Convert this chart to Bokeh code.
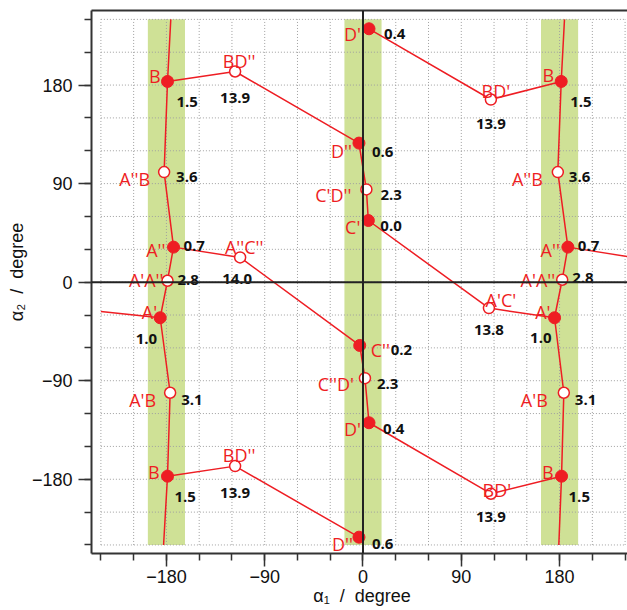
from bokeh.plotting import figure
from bokeh.models import ColumnDataSource, LinearAxis, FixedTicker, Span, Range1d
from bokeh.embed import file_html
from bokeh.resources import INLINE
from bokeh.core.properties import value

RED = "#ee1d23"
GREEN = "#cfe196"
GRID = "#a0a0a0"
NB = "\u00a0"

# ---------------- data (degrees) ----------------
# minima (filled circles)
min_names = ["B", "B", "B", "B", "A''", "A''", "A'", "A'", "C'", "C''", "D'", "D'", "D''", "D''"]
min_x = [-179.0, -179.0, 181.5, 181.8, -173.5, 187.6, -185.7, 175.4, 4.9, -3.0, 5.5, 5.5, -3.7, -3.7]
min_y = [183.3, -177.2, 183.3, -177.2, 32.0, 32.0, -32.5, -32.5, 56.3, -57.8, 231.4, -128.4, 127.0, -232.9]
min_energy = ["1.5", "1.5", "1.5", "1.5", "0.7", "0.7", "1.0", "1.0", "0.0", "0.2", "0.4", "0.4", "0.6", "0.6"]

# transition states (open circles)
ts_names = ["BD''", "BD''", "BD'", "BD'", "A''B", "A''B", "A''C''", "A'A''", "A'A''", "A'B", "A'B", "C'D''", "A'C'", "C''D'"]
ts_x = [-117.1, -117.1, 117.1, 117.1, -182.1, 178.4, -112.5, -179.0, 182.4, -176.6, 183.9, 3.1, 115.3, 1.8]
ts_y = [192.4, -168.0, 166.8, -193.2, 100.5, 100.5, 22.6, 1.3, 2.2, -101.0, -101.0, 84.7, -23.7, -87.7]
ts_energy = ["13.9", "13.9", "13.9", "13.9", "3.6", "3.6", "14.0", "2.8", "2.8", "3.1", "3.1", "2.3", "13.8", "2.3"]

# connecting paths
path_x = [
    [-176.0, -179.0, -182.1, -173.5, -179.0, -185.7, -176.6, -179.0, -182.6],
    [-240.0, -185.7],
    [-173.5, -112.5, -3.0, 1.8, 5.5, 117.1, 181.8],
    [-179.0, -117.1, -3.7, 3.1, 4.9, 115.3, 175.4],
    [-179.0, -117.1, -3.7],
    [5.5, 117.1, 181.5],
    [184.5, 181.5, 178.4, 187.6, 182.4, 175.4, 183.9, 181.8, 179.3],
    [187.6, 247.5],
]
path_y = [
    [240.0, 183.3, 100.5, 32.0, 1.3, -32.5, -101.0, -177.2, -240.0],
    [-26.8, -32.5],
    [32.0, 22.6, -57.8, -87.7, -128.4, -193.2, -177.2],
    [183.3, 192.4, 127.0, 84.7, 56.3, -23.7, -32.5],
    [-177.2, -168.0, -232.9],
    [231.4, 166.8, 183.3],
    [240.0, 183.3, 100.5, 32.0, 2.2, -32.5, -101.0, -177.2, -240.0],
    [32.0, 22.6],
]

band_centers = [-180, 0, 180]
band_half = 17
lim = 240
major_ticks = [-180, -90, 0, 90, 180]
minor_ticks = list(range(-240, 241, 30))

# label placement (style): (align, dx px, baseline dy px)
min_name_pos = [("right", -7, -5), ("right", -8, -4), ("right", -7, -6), ("right", -8, -4),
                ("right", -8, 3), ("right", -8, 3), ("right", -3, -6), ("right", -4, -6),
                ("right", -8, 6), ("left", 11, 5), ("right", -8, 5), ("right", -8, 6),
                ("right", -7, 8), ("right", -6, 7)]
min_energy_pos = [("left", 9, 21), ("left", 7, 21), ("left", 9, 21), ("left", 7, 21),
                  ("left", 10, -1), ("left", 10, -1), ("right", -3, 21), ("right", -3, 20),
                  ("left", 12, 5), ("left", 31, 5), ("left", 15, 5), ("left", 14, 6),
                  ("left", 13, 9), ("left", 13, 7)]
ts_name_pos = [("center", 4, -10), ("center", 4, -11), ("center", 5, -9), ("center", 6, -4),
               ("right", -14, 7), ("right", -15, 7), ("center", 4, -10), ("right", -4, -1),
               ("right", -7, 0), ("right", -14, 7), ("right", -16, 7), ("right", -15, 6),
               ("center", 12, -8), ("right", -11, 6)]
ts_energy_pos = [("center", 0, 27), ("center", 0, 27), ("center", 0, 24), ("center", 0, 23),
                 ("left", 12, 5), ("left", 11, 5), ("center", -3, 22), ("left", 10, -1),
                 ("left", 10, -2), ("left", 11, 7), ("left", 11, 7), ("left", 14, 6),
                 ("center", 0, 22), ("left", 12, 6)]

# ---------------- figure ----------------
p = figure(width=627, height=610,
           x_range=Range1d(-248.6, 242.2), y_range=Range1d(-247.8, 248.1),
           output_backend="svg", toolbar_location=None,
           min_border_left=91, min_border_right=0, min_border_top=10, min_border_bottom=57)
p.outline_line_color = None
p.xgrid.visible = False
p.ygrid.visible = False
p.background_fill_color = "white"
p.border_fill_color = "white"

TICK_FONT = "Liberation Sans"
for ax in (p.xaxis[0], p.yaxis[0]):
    ax.ticker = FixedTicker(ticks=major_ticks, minor_ticks=minor_ticks)
    ax.major_tick_out = 13
    ax.major_tick_in = 0
    ax.minor_tick_out = 7
    ax.minor_tick_in = 0
    ax.axis_line_width = 2
    ax.axis_line_color = "#333333"
    ax.major_tick_line_width = 1.5
    ax.minor_tick_line_width = 1.5
    ax.major_tick_line_color = "#333333"
    ax.minor_tick_line_color = "#333333"
    ax.major_label_text_font = TICK_FONT
    ax.major_label_text_font_size = "18px"
    ax.major_label_text_color = "#111111"
    ax.axis_label_text_font = TICK_FONT
    ax.axis_label_text_font_size = "18px"
    ax.axis_label_text_font_style = "normal"
    ax.axis_label_text_color = "#111111"

p.xaxis.major_label_standoff = 3
p.yaxis.major_label_standoff = 6
p.xaxis.axis_label_standoff = 0
p.yaxis.axis_label_standoff = 2
p.xaxis.axis_label = NB + "α₁" + NB * 2 + "/" + NB * 2 + "degree"
p.yaxis.axis_label = NB * 4 + "α₂" + NB * 2 + "/" + NB * 2 + "degree"
p.yaxis.major_label_orientation = "horizontal"

top_axis = LinearAxis(ticker=FixedTicker(ticks=[]), major_label_text_font_size="0px",
                      major_tick_out=0, major_tick_in=0, minor_tick_out=0, minor_tick_in=0,
                      major_label_standoff=0, axis_line_width=2, axis_line_color="#333333")
p.add_layout(top_axis, "above")

# green bands
p.quad(left=[c - band_half for c in band_centers], right=[c + band_half for c in band_centers],
       top=lim, bottom=-lim, fill_color=GREEN, line_color=None)

# dotted grid
p.segment(x0=minor_ticks, y0=[-lim] * len(minor_ticks), x1=minor_ticks, y1=[lim] * len(minor_ticks),
          line_color=GRID, line_width=1, line_dash="1 2")
p.segment(x0=[-lim] * len(minor_ticks), y0=minor_ticks, x1=[lim] * len(minor_ticks), y1=minor_ticks,
          line_color=GRID, line_width=1, line_dash="1 2")

# zero lines
p.add_layout(Span(location=0, dimension="height", line_color="#222222", line_width=2))
p.add_layout(Span(location=0, dimension="width", line_color="#222222", line_width=2))

# paths
for xs, ys in zip(path_x, path_y):
    p.line(xs, ys, line_color=RED, line_width=1.5)

# markers
p.scatter(min_x, min_y, size=12, fill_color=RED, line_color=RED, line_width=1)
p.scatter(ts_x, ts_y, size=11, fill_color="white", line_color=RED, line_width=1.5)

# labels
def add_labels(xs, ys, texts, pos, color, font, size, style):
    for align in ("left", "right", "center"):
        idx = [i for i, q in enumerate(pos) if q[0] == align]
        if not idx:
            continue
        src = ColumnDataSource(dict(
            x=[xs[i] for i in idx], y=[ys[i] for i in idx], t=[texts[i] for i in idx],
            dx=[pos[i][1] for i in idx], dy=[pos[i][2] for i in idx]))
        p.text(x="x", y="y", text="t", x_offset="dx", y_offset="dy", source=src,
               text_align=align, text_baseline="alphabetic", text_color=color,
               text_font=value(font), text_font_size=size, text_font_style=style)

add_labels(min_x, min_y, min_names, min_name_pos, RED, "Open Sans", "18px", "normal")
add_labels(ts_x, ts_y, ts_names, ts_name_pos, RED, "Open Sans", "18px", "normal")
add_labels(min_x, min_y, min_energy, min_energy_pos, "#111111", "Open Sans", "15px", "bold")
add_labels(ts_x, ts_y, ts_energy, ts_energy_pos, "#111111", "Open Sans", "15px", "bold")

open("out.html", "w").write(file_html(p, INLINE))
